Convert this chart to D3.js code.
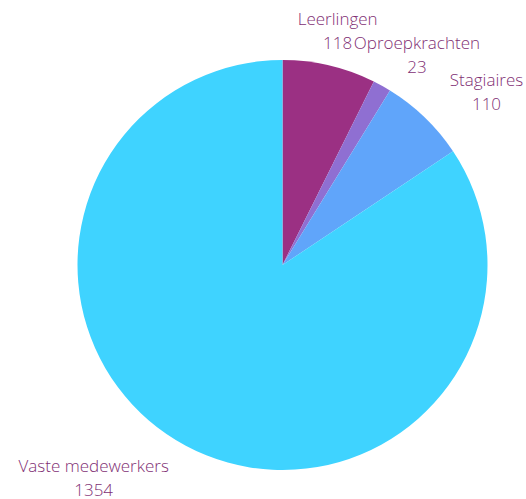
<!DOCTYPE html>
<html>
<head>
<meta charset="utf-8">
<script src="https://cdn.jsdelivr.net/npm/d3@7"></script>
<style>
  body { margin: 0; background: #fff; }
  text { font-family: "Open Sans", sans-serif; font-weight: 300; }
</style>
</head>
<body>
<div id="chart"></div>
<script>
const categories = ['Leerlingen', 'Oproepkrachten', 'Stagiaires', 'Vaste medewerkers'];
const values = [118, 23, 110, 1354];
const colors = ['#9b3083', '#8f6fd2', '#60a5fa', '#3fd3ff'];

const width = 526;
const height = 499;
const cx = 282.5;
const cy = 265;
const radius = 205;

const svg = d3.select('#chart')
  .append('svg')
  .attr('width', width)
  .attr('height', height);

const g = svg.append('g')
  .attr('transform', `translate(${cx},${cy})`);

const data = categories.map((c, i) => ({ name: c, value: values[i], color: colors[i] }));

const pie = d3.pie()
  .value((d) => d.value)
  .sort(null);

const arc = d3.arc()
  .innerRadius(0)
  .outerRadius(radius);

const arcs = pie(data);

// slices
g.selectAll('.slice')
  .data(arcs)
  .enter()
  .append('path')
  .attr('class', 'slice')
  .attr('d', arc)
  .attr('fill', (d) => d.data.color);

// labels: name + value, placed around the pie at the slice's mid angle
const labelRadius = 241;
const lineHeight = 24;

const labels = g.selectAll('.label')
  .data(arcs)
  .enter()
  .append('text')
  .attr('class', 'label')
  .attr('fill', '#7f2f74')
  .attr('font-size', 17);

labels.append('tspan')
  .attr('class', 'name')
  .text((d) => d.data.name);

labels.append('tspan')
  .attr('class', 'val')
  .text((d) => d.data.value);

labels.each(function (d) {
  const el = d3.select(this);
  const w = Math.max(
    el.select('.name').node().getComputedTextLength(),
    el.select('.val').node().getComputedTextLength()
  );
  const a = (d.startAngle + d.endAngle) / 2;
  const vx = Math.sin(a);
  const vy = -Math.cos(a);
  const px = labelRadius * vx;
  const py = labelRadius * vy;
  const base1 = py - 5.5;
  const base2 = base1 + lineHeight;

  let lx;
  if (vy > 0 || Math.abs(vx) > 0.6) {
    // hang off to the side
    lx = px + Math.sign(vx) * w / 2;
  } else {
    // centred above, pushed sideways until clear of the pie
    lx = px;
    const bottom = base2;
    if (Math.abs(bottom) < radius) {
      const edge = Math.sqrt(radius * radius - bottom * bottom);
      if (lx - w / 2 < edge && lx + w / 2 > -edge) {
        lx = vx >= 0 ? Math.max(lx, edge + w / 2) : Math.min(lx, -edge - w / 2);
      }
    }
  }

  el.attr('text-anchor', 'middle');
  el.select('.name').attr('x', lx).attr('y', base1);
  el.select('.val').attr('x', lx).attr('y', base2);
});
</script>
</body>
</html>
